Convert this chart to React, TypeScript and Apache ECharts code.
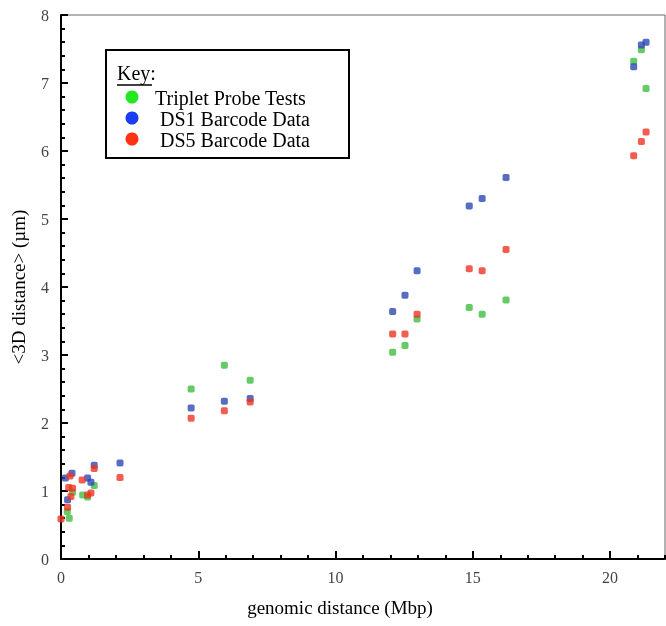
import React, { useEffect, useRef } from 'react';
import * as echarts from 'echarts';

// Triplet Probe Tests
const tripletX = [0.23, 0.30, 0.42, 0.79, 0.97, 1.21, 4.74, 5.95, 6.89, 12.08, 12.53, 12.97, 14.87, 15.34, 16.21, 20.86, 21.14, 21.31];
const tripletY = [0.70, 0.60, 0.98, 0.94, 0.91, 1.08, 2.50, 2.85, 2.63, 3.04, 3.14, 3.53, 3.70, 3.60, 3.81, 7.32, 7.49, 6.92];

// DS1 Barcode Data
const ds1X = [0.16, 0.24, 0.40, 0.97, 1.09, 1.21, 2.15, 4.74, 5.95, 6.89, 12.08, 12.53, 12.97, 14.87, 15.34, 16.21, 20.86, 21.14, 21.31];
const ds1Y = [1.19, 0.87, 1.26, 1.19, 1.13, 1.38, 1.41, 2.22, 2.32, 2.36, 3.64, 3.88, 4.24, 5.19, 5.30, 5.61, 7.24, 7.56, 7.60];

// DS5 Barcode Data
const ds5X = [0.0, 0.24, 0.28, 0.33, 0.36, 0.42, 0.77, 0.97, 1.09, 1.21, 2.15, 4.74, 5.95, 6.89, 12.08, 12.53, 12.97, 14.87, 15.34, 16.21, 20.86, 21.14, 21.31];
const ds5Y = [0.59, 0.76, 1.05, 1.22, 0.92, 1.04, 1.16, 0.94, 0.97, 1.33, 1.20, 2.07, 2.18, 2.31, 3.31, 3.31, 3.60, 4.27, 4.24, 4.55, 5.93, 6.14, 6.28];

const seriesNames = ['Triplet Probe Tests', 'DS1 Barcode Data', 'DS5 Barcode Data'];
const markerColors = ['#40bd40', '#2c48b3', '#ee3522'];
const keyColors = ['#22e822', '#1a3cf5', '#ff3311'];

const xMin = 0;
const xMax = 22;
const yMin = 0;
const yMax = 8;

const pairs = (xs: number[], ys: number[]) => xs.map((x, i) => [x, ys[i]]);

const serif = '"Liberation Serif", "Times New Roman", serif';

export default function App() {
  const ref = useRef<HTMLDivElement>(null);
  useEffect(() => {
    const chart = echarts.init(ref.current!, null, { renderer: 'svg' });
    const labelStyle = { color: '#444', fontFamily: serif, fontSize: 16 };
    chart.setOption({
      animation: false,
      grid: { left: 61, top: 15, right: 1, bottom: 67, show: true, borderColor: '#666', borderWidth: 1 },
      xAxis: [
        {
          type: 'value', min: xMin, max: xMax, interval: 1, position: 'bottom',
          axisLine: { show: true, onZero: false, lineStyle: { color: '#000', width: 2 } },
          axisTick: { show: true, inside: true, length: 4, lineStyle: { color: '#000', width: 2 } },
          axisLabel: { show: false },
          splitLine: { show: false },
        },
        {
          type: 'value', min: xMin, max: xMax, interval: 5, position: 'bottom',
          axisLine: { show: false, onZero: false },
          axisTick: { show: true, inside: true, length: 8, lineStyle: { color: '#000', width: 2 } },
          axisLabel: { show: true, margin: 10, showMaxLabel: false, ...labelStyle },
          splitLine: { show: false },
        },
      ],
      yAxis: {
        type: 'value', min: yMin, max: yMax, interval: 1,
        axisLine: { show: true, onZero: false, lineStyle: { color: '#000', width: 2 } },
        axisTick: { show: true, inside: true, length: 7, lineStyle: { color: '#000', width: 2 } },
        minorTick: { show: true, splitNumber: 5, length: 4, lineStyle: { color: '#000', width: 2 } },
        axisLabel: { show: true, margin: 12, ...labelStyle },
        splitLine: { show: false },
      },
      series: [
        { name: seriesNames[0], type: 'scatter', data: pairs(tripletX, tripletY), symbol: 'roundRect', symbolSize: 7, itemStyle: { color: markerColors[0] }, clip: false },
        { name: seriesNames[1], type: 'scatter', data: pairs(ds1X, ds1Y), symbol: 'roundRect', symbolSize: 7, itemStyle: { color: markerColors[1] }, clip: false },
        { name: seriesNames[2], type: 'scatter', data: pairs(ds5X, ds5Y), symbol: 'roundRect', symbolSize: 7, itemStyle: { color: markerColors[2] }, clip: false },
      ],
      graphic: [
        { type: 'rect', shape: { x: 106, y: 50, width: 243, height: 108 }, style: { fill: '#fff', stroke: '#000', lineWidth: 2 }, z: 100 },
        { type: 'text', x: 117, y: 73, style: { text: 'Key:', font: `20px ${serif}`, fill: '#000', verticalAlign: 'middle' }, z: 101 },
        { type: 'line', shape: { x1: 117, y1: 85, x2: 152, y2: 85 }, style: { stroke: '#000', lineWidth: 1.5 }, z: 101 },
        ...seriesNames.map((name, i) => ({
          type: 'circle', shape: { cx: 132, cy: 97 + i * 21, r: 6.5 }, style: { fill: keyColors[i] }, z: 101,
        })),
        ...seriesNames.map((name, i) => ({
          type: 'text', x: i === 0 ? 155 : 160, y: 98 + i * 21,
          style: { text: name, font: `20px ${serif}`, fill: '#000', verticalAlign: 'middle' }, z: 101,
        })),
        { type: 'text', x: 18, y: 287, rotation: Math.PI / 2, style: { text: '<3D distance> (µm)', font: `19px ${serif}`, fill: '#000', align: 'center', verticalAlign: 'middle' } },
        { type: 'text', x: 340, y: 607, style: { text: 'genomic distance (Mbp)', font: `19px ${serif}`, fill: '#000', align: 'center', verticalAlign: 'middle' } },
      ],
    });
    return () => chart.dispose();
  }, []);
  return <div ref={ref} style={{ position: 'fixed', left: 0, top: 0, width: 666, height: 626 }} />;
}
